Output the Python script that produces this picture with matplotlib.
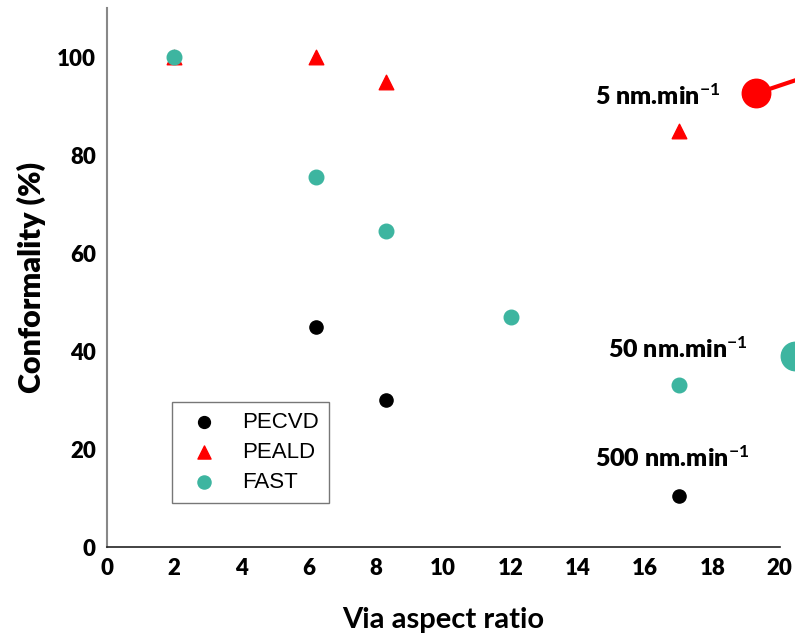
import matplotlib
matplotlib.use("Agg")
import matplotlib.pyplot as plt

plt.rcParams["mathtext.fontset"] = "custom"
plt.rcParams["mathtext.rm"] = "Lato:bold"
plt.rcParams["mathtext.it"] = "Lato:bold"
plt.rcParams["mathtext.bf"] = "Lato:bold"

# Conformality versus via aspect ratio for three deposition processes
pecvd_x = [6.2, 8.3, 17.0]
pecvd_y = [45.0, 30.0, 10.5]

peald_x = [2.0, 6.2, 8.3, 17.0]
peald_y = [100.0, 100.0, 95.0, 85.0]

fast_x = [2.0, 6.2, 8.3, 12.0, 17.0]
fast_y = [100.0, 75.5, 64.5, 47.0, 33.0]

# Deposition-rate callouts
rate_labels = ["5 nm.min$^{-1}$", "50 nm.min$^{-1}$", "500 nm.min$^{-1}$"]
rate_pos = [(14.5, 92.0), (14.9, 40.5), (14.5, 18.2)]

# Large reference markers at the right edge
big_red = (19.3, 92.6)
big_red_end = (21.6, 97.9)
big_teal = (20.45, 39.1)

RED = "#ff0000"
TEAL = "#3db5a0"

fig = plt.figure(figsize=(7.95, 6.34), dpi=100)
ax = fig.add_axes([0.1346, 0.137, 0.846, 0.850])

ax.scatter(pecvd_x, pecvd_y, s=90, color="black", marker="o", label="PECVD", zorder=3)
ax.scatter(peald_x, peald_y, s=110, color=RED, marker="^", label="PEALD", zorder=3)
ax.scatter(fast_x, fast_y, s=110, color=TEAL, marker="o", label="FAST", zorder=4)

ax.plot([big_red[0], big_red_end[0]], [big_red[1], big_red_end[1]],
        color=RED, lw=3, clip_on=False, zorder=5)
ax.scatter([big_red[0]], [big_red[1]], s=420, color=RED, clip_on=False, zorder=6)
ax.scatter([big_teal[0]], [big_teal[1]], s=420, color=TEAL, clip_on=False, zorder=6)

for txt, (x, y) in zip(rate_labels, rate_pos):
    ax.text(x, y, txt, fontsize=18, fontweight="heavy", family="Lato",
            ha="left", va="center", color="black")

ax.set_xlim(0, 20)
ax.set_ylim(0, 110)
ax.set_xticks(range(0, 21, 2))
ax.set_yticks(range(0, 101, 20))
ax.tick_params(length=0, labelsize=16, pad=8)
for lab in ax.get_xticklabels() + ax.get_yticklabels():
    lab.set_family("Lato")
    lab.set_fontweight("heavy")

ax.spines["top"].set_visible(False)
ax.spines["right"].set_visible(False)
ax.spines["left"].set_color("#888888")
ax.spines["left"].set_linewidth(1.5)
ax.spines["bottom"].set_color("#222222")
ax.spines["bottom"].set_linewidth(1.2)

ax.set_ylabel("Conformality (%)", fontsize=22, fontweight="heavy", family="Lato", labelpad=8)
ax.set_xlabel("Via aspect ratio", fontsize=21, fontweight="bold", family="Lato", labelpad=20)

leg = ax.legend(loc="upper left", bbox_to_anchor=(0.08, 0.29), frameon=True,
                fancybox=False, edgecolor="#555555", prop={"family": "Liberation Sans", "size": 16},
                handletextpad=0.7, labelspacing=0.4, borderpad=0.45, scatterpoints=1,
                markerscale=0.9)
leg.get_frame().set_linewidth(1.0)

fig.savefig("out.png", dpi=100)
